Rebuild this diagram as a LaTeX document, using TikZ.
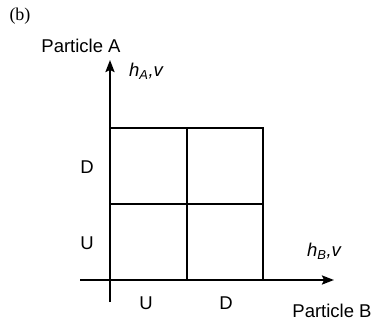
\documentclass[tikz,border=0pt]{standalone}
\usepackage{fontspec}
\setmainfont{Liberation Sans}
\newfontfamily\serifb{Liberation Serif}
\usetikzlibrary{arrows.meta}
\begin{document}
\begin{tikzpicture}[x=1pt,y=-1pt,
  axis/.style={line width=2.2pt,-{Stealth[length=12pt,width=9pt,inset=2pt]}},
  gridline/.style={line width=1.3pt},
  lbl/.style={font=\fontsize{18.5}{21}\selectfont,inner sep=0pt},
  axlbl/.style={font=\fontsize{18.5}{21}\selectfont\itshape,inner sep=0pt}]
\useasboundingbox (0,0) rectangle (373,322);
\coordinate (ystart) at (110,302);
\coordinate (yend) at (110,60);
\coordinate (xstart) at (80,280);
\coordinate (xend) at (334,280);
\draw[gridline] (110,128) rectangle (263,280);
\draw[gridline] (187,128) -- (187,280);
\draw[gridline] (110,204) -- (263,204);
\draw[axis] (ystart) -- (yend);
\draw[axis] (xstart) -- (xend);
\node[font=\serifb\fontsize{18}{21}\selectfont,inner sep=0pt] (b) at (20,16) {(b)};
\node[lbl] (pa) at (81,46) {Particle A};
\node[axlbl] (ha) at (146,71) {h\textsubscript{A},v};
\node[lbl] (d1) at (87,167) {D};
\node[lbl] (u1) at (87,243) {U};
\node[lbl] (u2) at (146,303) {U};
\node[lbl] (d2) at (226,303) {D};
\node[axlbl] (hb) at (324,251) {h\textsubscript{B},v};
\node[lbl] (pb) at (332,311) {Particle B};
\end{tikzpicture}
\end{document}
